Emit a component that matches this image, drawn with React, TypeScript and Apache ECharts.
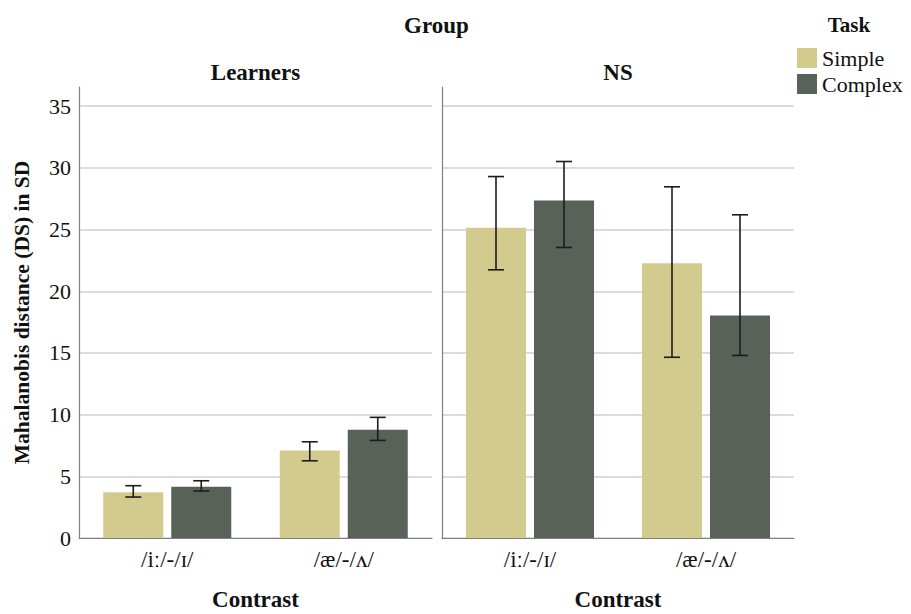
import React, { useEffect, useRef } from "react";
import * as echarts from "echarts";

// Contrast categories on each panel's x axis
const contrasts = ["/iː/-/ɪ/", "/æ/-/ʌ/"];
const groups = ["Learners", "NS"];
const yTicks = [0, 5, 10, 15, 20, 25, 30, 35];

// Mean Mahalanobis distance with error-bar bounds, per group and task
const learnersSimple = [3.7, 7.1];
const learnersSimpleLow = [3.32, 6.26];
const learnersSimpleHigh = [4.24, 7.8];
const learnersComplex = [4.16, 8.78];
const learnersComplexLow = [3.81, 7.91];
const learnersComplexHigh = [4.64, 9.78];

const nsSimple = [25.15, 22.28];
const nsSimpleLow = [21.74, 14.65];
const nsSimpleHigh = [29.3, 28.47];
const nsComplex = [27.36, 18.04];
const nsComplexLow = [23.55, 14.8];
const nsComplexHigh = [30.52, 26.2];

const SIMPLE_COLOR = "#d2cb8d";
const COMPLEX_COLOR = "#596259";
const FONT = "Liberation Serif, serif";

const BAR_W = 60;
const BAR_GAP = 8;
const Y_MAX = 36.56;

function errorSeries(
  name: string,
  low: number[],
  high: number[],
  axisIndex: number,
  side: number
) {
  return {
    type: "custom",
    name: name + " error",
    xAxisIndex: axisIndex,
    yAxisIndex: axisIndex,
    silent: true,
    z: 10,
    encode: { x: 0, y: [1, 2] },
    data: low.map((l, i) => [i, l, high[i]]),
    renderItem: (_params: any, api: any) => {
      const cat = api.value(0);
      const lo = api.coord([cat, api.value(1)]);
      const hi = api.coord([cat, api.value(2)]);
      const x = lo[0] + side * (BAR_W + BAR_GAP) / 2;
      const cap = 8;
      const style = { stroke: "#1c1c1c", lineWidth: 1.6 };
      return {
        type: "group",
        children: [
          { type: "line", shape: { x1: x, y1: lo[1], x2: x, y2: hi[1] }, style },
          { type: "line", shape: { x1: x - cap, y1: hi[1], x2: x + cap, y2: hi[1] }, style },
          { type: "line", shape: { x1: x - cap, y1: lo[1], x2: x + cap, y2: lo[1] }, style },
        ],
      };
    },
  };
}

export default function App() {
  const ref = useRef<HTMLDivElement>(null);

  useEffect(() => {
    if (!ref.current) return;
    const chart = echarts.init(ref.current, null, { renderer: "svg" });

    const gridTop = 87;
    const gridBottom = 76;
    const grids = [
      { left: 79, right: 911 - 432, top: gridTop, bottom: gridBottom, containLabel: false, outerBoundsMode: "none" },
      { left: 442, right: 911 - 794, top: gridTop, bottom: gridBottom, containLabel: false, outerBoundsMode: "none" },
    ];

    const xAxes = grids.map((_, i) => ({
      type: "category",
      gridIndex: i,
      data: contrasts,
      axisTick: { show: false },
      axisLine: { show: true, lineStyle: { color: "#808080", width: 1.2 } },
      axisLabel: { color: "#111", fontFamily: FONT, fontSize: 23, margin: 10 },
      name: "Contrast",
      nameLocation: "middle",
      nameGap: 50,
      nameTextStyle: { color: "#111", fontFamily: FONT, fontSize: 23, fontWeight: "bold" },
    }));

    const yAxes = grids.map((_, i) => ({
      type: "value",
      gridIndex: i,
      min: yTicks[0],
      max: Y_MAX,
      interval: yTicks[1] - yTicks[0],
      axisTick: { show: false },
      axisLine: { show: true, lineStyle: { color: "#808080", width: 1.2 } },
      axisLabel: {
        show: i === 0,
        showMaxLabel: false,
        color: "#111",
        fontFamily: FONT,
        fontSize: 22,
        margin: 8,
      },
      splitLine: {
        show: true,
        showMaxLine: false,
        lineStyle: { color: "#d0d0d0", width: 1.6 },
      },
      name: i === 0 ? "Mahalanobis distance (DS) in SD" : "",
      nameLocation: "middle",
      nameGap: 46,
      nameTextStyle: { color: "#111", fontFamily: FONT, fontSize: 21.5, fontWeight: "bold" },
    }));

    const barBase = { type: "bar", barWidth: BAR_W, barGap: `${(BAR_GAP / BAR_W) * 100}%` };

    const headerStyle = (text: string, size: number) => ({
      text,
      fontFamily: FONT,
      fontSize: size,
      fontWeight: "bold",
      fill: "#111",
      align: "center",
      verticalAlign: "middle",
    });

    const option = {
      animation: false,
      backgroundColor: "#ffffff",
      textStyle: { fontFamily: FONT },
      grid: grids,
      xAxis: xAxes,
      yAxis: yAxes,
      legend: {
        orient: "vertical",
        left: 792,
        top: 42,
        icon: "rect",
        itemWidth: 20,
        itemHeight: 20,
        itemGap: 4,
        data: ["Simple", "Complex"],
        textStyle: { color: "#111", fontFamily: FONT, fontSize: 22 },
        selectedMode: false,
      },
      graphic: [
        { type: "text", x: (79 + 794) / 2, y: 25, style: headerStyle("Group", 23) },
        { type: "text", x: 849, y: 25, style: headerStyle("Task", 21) },
        { type: "text", x: (79 + 432) / 2, y: 72, style: headerStyle(groups[0], 23) },
        { type: "text", x: (442 + 794) / 2, y: 72, style: headerStyle(groups[1], 23) },
      ],
      series: [
        { ...barBase, name: "Simple", xAxisIndex: 0, yAxisIndex: 0, data: learnersSimple, itemStyle: { color: SIMPLE_COLOR } },
        { ...barBase, name: "Complex", xAxisIndex: 0, yAxisIndex: 0, data: learnersComplex, itemStyle: { color: COMPLEX_COLOR } },
        { ...barBase, name: "Simple", xAxisIndex: 1, yAxisIndex: 1, data: nsSimple, itemStyle: { color: SIMPLE_COLOR } },
        { ...barBase, name: "Complex", xAxisIndex: 1, yAxisIndex: 1, data: nsComplex, itemStyle: { color: COMPLEX_COLOR } },
        errorSeries("Simple", learnersSimpleLow, learnersSimpleHigh, 0, -1),
        errorSeries("Complex", learnersComplexLow, learnersComplexHigh, 0, 1),
        errorSeries("Simple", nsSimpleLow, nsSimpleHigh, 1, -1),
        errorSeries("Complex", nsComplexLow, nsComplexHigh, 1, 1),
      ],
    };

    chart.setOption(option as any);
    return () => chart.dispose();
  }, []);

  return (
    <div
      ref={ref}
      style={{ position: "fixed", left: 0, top: 0, width: 911, height: 614 }}
    />
  );
}
